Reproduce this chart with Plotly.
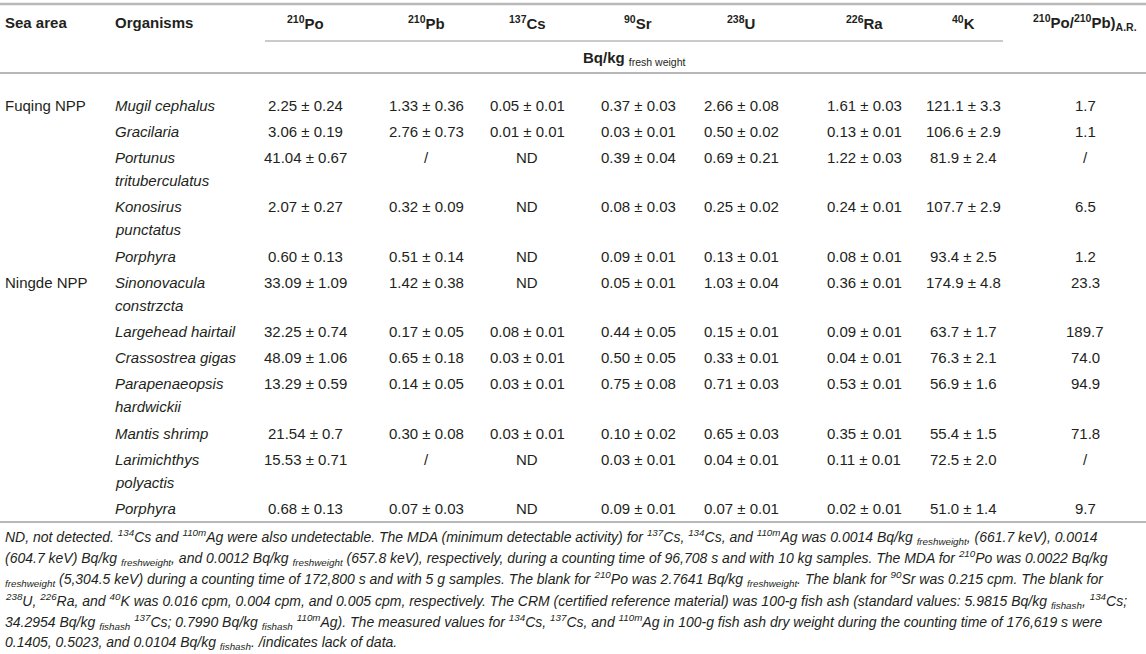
import plotly.graph_objects as go

# ---- table data ----
sea_areas = ["Fuqing NPP", "", "", "", "", "Ningde NPP", "", "", "", "", "", ""]
organisms = [
    ["Mugil cephalus"],
    ["Gracilaria"],
    ["Portunus", "trituberculatus"],
    ["Konosirus", "punctatus"],
    ["Porphyra"],
    ["Sinonovacula", "constrzcta"],
    ["Largehead hairtail"],
    ["Crassostrea gigas"],
    ["Parapenaeopsis", "hardwickii"],
    ["Mantis shrimp"],
    ["Larimichthys", "polyactis"],
    ["Porphyra"],
]
po210 = ["2.25 ± 0.24", "3.06 ± 0.19", "41.04 ± 0.67", "2.07 ± 0.27", "0.60 ± 0.13", "33.09 ± 1.09",
         "32.25 ± 0.74", "48.09 ± 1.06", "13.29 ± 0.59", "21.54 ± 0.7", "15.53 ± 0.71", "0.68 ± 0.13"]
pb210 = ["1.33 ± 0.36", "2.76 ± 0.73", "/", "0.32 ± 0.09", "0.51 ± 0.14", "1.42 ± 0.38",
         "0.17 ± 0.05", "0.65 ± 0.18", "0.14 ± 0.05", "0.30 ± 0.08", "/", "0.07 ± 0.03"]
cs137 = ["0.05 ± 0.01", "0.01 ± 0.01", "ND", "ND", "ND", "ND",
         "0.08 ± 0.01", "0.03 ± 0.01", "0.03 ± 0.01", "0.03 ± 0.01", "ND", "ND"]
sr90 = ["0.37 ± 0.03", "0.03 ± 0.01", "0.39 ± 0.04", "0.08 ± 0.03", "0.09 ± 0.01", "0.05 ± 0.01",
        "0.44 ± 0.05", "0.50 ± 0.05", "0.75 ± 0.08", "0.10 ± 0.02", "0.03 ± 0.01", "0.09 ± 0.01"]
u238 = ["2.66 ± 0.08", "0.50 ± 0.02", "0.69 ± 0.21", "0.25 ± 0.02", "0.13 ± 0.01", "1.03 ± 0.04",
        "0.15 ± 0.01", "0.33 ± 0.01", "0.71 ± 0.03", "0.65 ± 0.03", "0.04 ± 0.01", "0.07 ± 0.01"]
ra226 = ["1.61 ± 0.03", "0.13 ± 0.01", "1.22 ± 0.03", "0.24 ± 0.01", "0.08 ± 0.01", "0.36 ± 0.01",
         "0.09 ± 0.01", "0.04 ± 0.01", "0.53 ± 0.01", "0.35 ± 0.01", "0.11 ± 0.01", "0.02 ± 0.01"]
k40 = ["121.1 ± 3.3", "106.6 ± 2.9", "81.9 ± 2.4", "107.7 ± 2.9", "93.4 ± 2.5", "174.9 ± 4.8",
       "63.7 ± 1.7", "76.3 ± 2.1", "56.9 ± 1.6", "55.4 ± 1.5", "72.5 ± 2.0", "51.0 ± 1.4"]
ratio = ["1.7", "1.1", "/", "6.5", "1.2", "23.3", "189.7", "74.0", "94.9", "71.8", "/", "9.7"]

value_cols = [po210, pb210, cs137, sr90, u238, ra226, k40, ratio]
headers = ["<sup>210</sup>Po", "<sup>210</sup>Pb", "<sup>137</sup>Cs", "<sup>90</sup>Sr",
           "<sup>238</sup>U", "<sup>226</sup>Ra", "<sup>40</sup>K",
           "<sup>210</sup>Po/<sup>210</sup>Pb)<sub>A.R.</sub>"]
unit_label = "<b>Bq/kg</b> <sub>fresh weight</sub>"

footnote = [
    "ND, not detected. <sup>134</sup>Cs and <sup>110m</sup>Ag were also undetectable. The MDA (minimum detectable activity) for "
    "<sup>137</sup>Cs, <sup>134</sup>Cs, and <sup>110m</sup>Ag was 0.0014 Bq/kg <sub>freshweight</sub>, (661.7 keV), 0.0014",
    "(604.7 keV) Bq/kg <sub>freshweight</sub>, and 0.0012 Bq/kg <sub>freshweight</sub> (657.8 keV), respectively, during a counting "
    "time of 96,708 s and with 10 kg samples. The MDA for <sup>210</sup>Po was 0.0022 Bq/kg",
    "<sub>freshweight</sub> (5,304.5 keV) during a counting time of 172,800 s and with 5 g samples. The blank for "
    "<sup>210</sup>Po was 2.7641 Bq/kg <sub>freshweight</sub>. The blank for <sup>90</sup>Sr was 0.215 cpm. The blank for",
    "<sup>238</sup>U, <sup>226</sup>Ra, and <sup>40</sup>K was 0.016 cpm, 0.004 cpm, and 0.005 cpm, respectively. The CRM "
    "(certified reference material) was 100-g fish ash (standard values: 5.9815 Bq/kg <sub>fishash</sub>, <sup>134</sup>Cs;",
    "34.2954 Bq/kg <sub>fishash</sub> <sup>137</sup>Cs; 0.7990 Bq/kg <sub>fishash</sub> <sup>110m</sup>Ag). The measured values for "
    "<sup>134</sup>Cs, <sup>137</sup>Cs, and <sup>110m</sup>Ag in 100-g fish ash dry weight during the counting time of 176,619 s were",
    "0.1405, 0.5023, and 0.0104 Bq/kg <sub>fishash</sub>. /indicates lack of data.",
]

# ---- layout constants ----
W, H = 1146, 654
FONT = "Liberation Sans, Arial, Helvetica, sans-serif"
TXT = "#231f20"
LINE = "#b8b8b8"
x_sea, x_org = 3, 113
col_x = [305, 426, 527, 638, 741, 864, 963, 1085]
span_x0, span_x1 = 265, 1003
y_head, y_unit = 22, 58
y_first = 105
single_h, double_h, wrap_gap = 26, 49.5, 23
y_foot, foot_gap = 537, 21.2

ann = []


def add(x, y, text, anchor="center", size=15, italic=False):
    ann.append(dict(x=x, y=y, xref="x", yref="y", text=text, showarrow=False,
                    xanchor=anchor, yanchor="middle", align="left",
                    font=dict(family=FONT, size=size, color=TXT,
                              style="italic" if italic else "normal")))


# header
add(x_sea, y_head, "<b>Sea area</b>", "left")
add(x_org, y_head, "<b>Organisms</b>", "left")
for cx, h in zip(col_x, headers):
    add(cx, y_head, "<b>" + h + "</b>")
add((span_x0 + span_x1) / 2, y_unit, unit_label)

# body rows
y = y_first
for i, org in enumerate(organisms):
    if sea_areas[i]:
        add(x_sea, y, sea_areas[i], "left")
    for k, part in enumerate(org):
        add(x_org, y + k * wrap_gap, part, "left", italic=True)
    for cx, col in zip(col_x, value_cols):
        add(cx, y, col[i])
    y += single_h if len(org) == 1 else double_h

# footnote
for k, line in enumerate(footnote):
    add(x_sea, y_foot + k * foot_gap, line, "left", size=14, italic=True)

shapes = [
    dict(type="line", x0=0, x1=W, y0=4, y1=4, xref="x", yref="y", line=dict(color=LINE, width=2.5)),
    dict(type="line", x0=span_x0, x1=span_x1, y0=41, y1=41, xref="x", yref="y", line=dict(color=LINE, width=1.5)),
    dict(type="line", x0=0, x1=W, y0=73, y1=73, xref="x", yref="y", line=dict(color=LINE, width=2)),
    dict(type="line", x0=0, x1=W, y0=522, y1=522, xref="x", yref="y", line=dict(color=LINE, width=2)),
]

fig = go.Figure()
fig.update_layout(
    width=W, height=H, margin=dict(l=0, r=0, t=0, b=0),
    paper_bgcolor="white", plot_bgcolor="white",
    xaxis=dict(range=[0, W], visible=False, fixedrange=True),
    yaxis=dict(range=[H, 0], visible=False, fixedrange=True),
    annotations=ann, shapes=shapes, showlegend=False,
)
fig.write_html("out.html", config={"displayModeBar": False},
               post_script="document.body.style.margin='0';")
